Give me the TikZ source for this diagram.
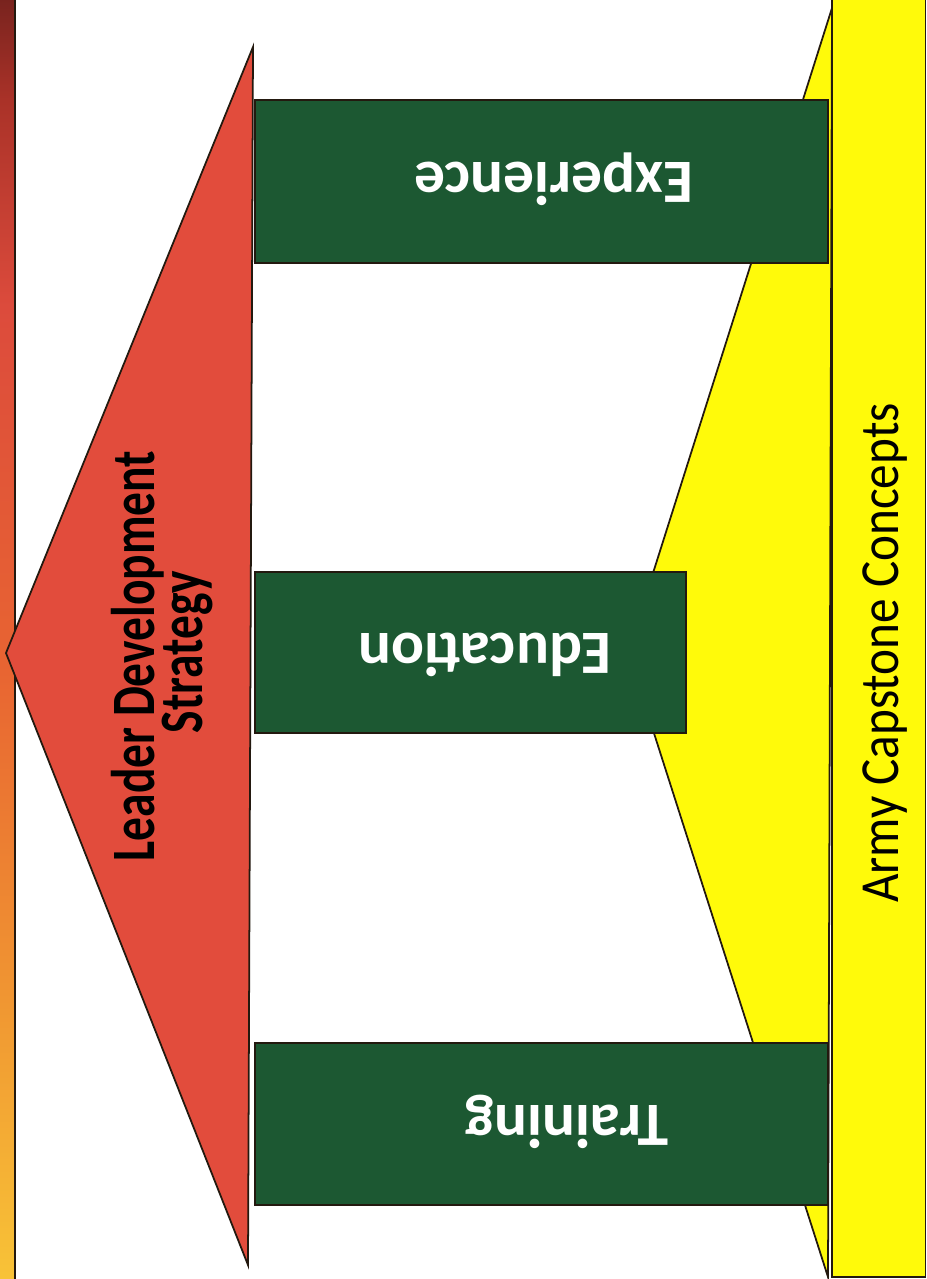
\documentclass[tikz,border=0pt]{standalone}
\usepackage{fontspec}
\setmainfont{Carlito}

\definecolor{roofred}{RGB}{226,76,60}
\definecolor{pillargreen}{RGB}{28,88,50}
\definecolor{baseyellow}{RGB}{255,250,10}
\definecolor{edgeline}{RGB}{35,25,15}

% bande de gauche : du rouge sombre (haut) au jaune orange (bas)
\pgfdeclareverticalshading{sidebar}{100bp}{%
  rgb(0bp)=(0.973,0.765,0.216);
  rgb(25bp)=(0.973,0.765,0.216);
  rgb(36bp)=(0.941,0.588,0.196);
  rgb(49bp)=(0.910,0.392,0.196);
  rgb(63bp)=(0.863,0.294,0.235);
  rgb(71bp)=(0.667,0.196,0.157);
  rgb(75bp)=(0.471,0.137,0.118);
  rgb(100bp)=(0.471,0.137,0.118)}

\tikzset{
  outline/.style={draw=edgeline, line width=1pt, line join=miter},
  pillar/.style={outline, fill=pillargreen},
  pillarlabel/.style={text=white, font=\bfseries\fontsize{35}{42}\selectfont,
    rotate=180, anchor=base, inner sep=0pt},
  rooflabel/.style={font=\bfseries\fontsize{27}{32}\selectfont,
    rotate=90, yscale=1.3, anchor=base, inner sep=0pt},
  baselabel/.style={font=\fontsize{28}{34}\selectfont,
    rotate=90, yscale=1.12, anchor=base, inner sep=0pt}
}

\begin{document}
\begin{tikzpicture}[x=0.2mm,y=-0.2mm]
  \useasboundingbox (0,0) rectangle (927,1279);
  % bande de gauche
  \shade[shading=sidebar] (-2,-2) rectangle (15,1281);
  \draw[outline] (15,-2) -- (15,1281);
  % socle jaune (triangle)
  \coordinate (bt) at (832,8);
  \coordinate (bm) at (628,652);
  \coordinate (bb) at (828,1277);
  \draw[outline, fill=baseyellow] (bt) -- (bm) -- (bb) -- cycle;
  % socle jaune (bande)
  \draw[outline, fill=baseyellow] (832,-5) rectangle (925.5,1277);
  \node[baselabel] (army) at (898,653) {Army Capstone Concepts};
  % toit rouge
  \coordinate (rtip) at (6,653);
  \coordinate (rtop) at (253,47);
  \coordinate (rbot) at (248,1265);
  \draw[outline, fill=roofred] (rtip) -- (rtop) -- (rbot) -- cycle;
  \node[rooflabel] (leader) at (154,656) {Leader Development};
  \node[rooflabel] (strategy) at (202,652) {Strategy};
  % piliers
  \draw[pillar] (255,100) rectangle (828,263);   % Experience
  \draw[pillar] (255,572) rectangle (686,733);   % Education
  \draw[pillar] (255,1043) rectangle (828,1205); % Training
  \node[pillarlabel] (experience) at (554,162) {Experience};
  \node[pillarlabel] (education) at (485,633) {Education};
  \node[pillarlabel] (training) at (567,1105) {Training};
\end{tikzpicture}
\end{document}
